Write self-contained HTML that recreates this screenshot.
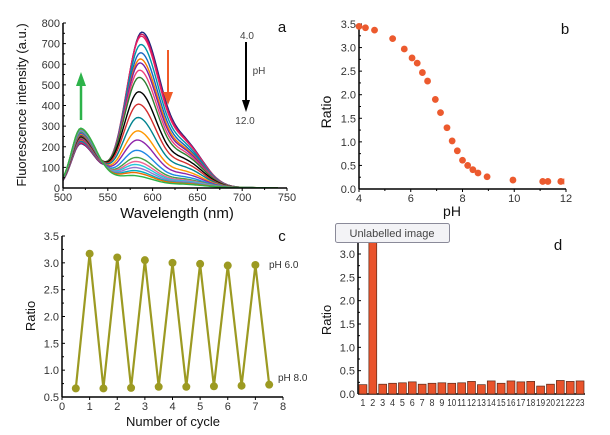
<!DOCTYPE html>
<html><head><meta charset="utf-8"><style>
body{margin:0;background:#fff}
svg{display:block;font-family:"Liberation Sans",Arial,sans-serif}
</style></head><body>
<svg id="fig" width="610" height="435" viewBox="0 0 610 435"></svg>
<script>
// Panel a data
const aPeak2 = [740,730,720,680,640,610,590,555,520,450,390,325,260,215,165,130,110,95,80,65,55,40];
const aPeak1 = [215,218,222,226,230,234,238,242,246,250,254,258,262,266,270,274,278,280,283,286,288,290];
const aXTicks = [500,550,600,650,700,750];
const aYTicks = [0,100,200,300,400,500,600,700,800];
// Panel b data
const bPH = [4.0,4.25,4.6,5.3,5.75,6.05,6.25,6.45,6.65,6.95,7.15,7.4,7.6,7.8,8.0,8.2,8.4,8.6,8.95,9.95,11.1,11.3,11.8];
const bRatio = [3.45,3.42,3.37,3.19,2.97,2.78,2.67,2.47,2.29,1.9,1.62,1.3,1.02,0.81,0.61,0.5,0.41,0.34,0.26,0.19,0.16,0.16,0.16];
const bXTicks = [4,6,8,10,12];
const bYTicks = [0,0.5,1,1.5,2,2.5,3,3.5];
// Panel c data
const cCycle = [0.5,1,1.5,2,2.5,3,3.5,4,4.5,5,5.5,6,6.5,7,7.5];
const cRatio = [0.66,3.17,0.66,3.1,0.67,3.05,0.69,3.0,0.69,2.98,0.70,2.95,0.71,2.96,0.73];
const cXTicks = [0,1,2,3,4,5,6,7,8];
const cYTicks = [0.5,1,1.5,2,2.5,3,3.5];
// Panel d data
const dLabels = ['1','2','3','4','5','6','7','8','9','10','11','12','13','14','15','16','17','18','19','20','21','22','23'];
const dRatio = [0.2,3.6,0.21,0.23,0.24,0.26,0.21,0.23,0.24,0.23,0.24,0.27,0.2,0.28,0.23,0.28,0.26,0.27,0.17,0.21,0.29,0.27,0.28];
const dYTicks = [0,0.5,1,1.5,2,2.5,3];

const svg=document.getElementById('fig');
const NS='http://www.w3.org/2000/svg';
function mk(tag,attrs,parent){const e=document.createElementNS(NS,tag);for(const k in attrs)e.setAttribute(k,attrs[k]);(parent||svg).appendChild(e);return e;}
function txt(s,x,y,size,anchor,parent,extra){const t=mk('text',Object.assign({x:x,y:y,'font-size':size,'text-anchor':anchor||'middle',fill:'#111'},extra||{}),parent);t.textContent=s;return t;}
function lin(d0,d1,r0,r1){return v=>r0+(v-d0)*(r1-r0)/(d1-d0);}

function axes(g,x0,x1,y0,y1,xTicks,xs,yTicks,ys,xfmt,yfmt,minorX,minorY){
  mk('line',{x1:x0,y1:y0,x2:x1,y2:y0,stroke:'#000','stroke-width':1.5},g);
  mk('line',{x1:x0,y1:y0,x2:x0,y2:y1,stroke:'#000','stroke-width':1.5},g);
  xTicks.forEach((v,i)=>{const x=xs(v);mk('line',{x1:x,y1:y0,x2:x,y2:y0+3,stroke:'#000'},g);
    if(xfmt)txt(xfmt(v),x,y0+13,11,'middle',g,{fill:'#333'});
    if(minorX&&i<xTicks.length-1){const m=xs((v+xTicks[i+1])/2);mk('line',{x1:m,y1:y0,x2:m,y2:y0+2,stroke:'#000'},g);}});
  yTicks.forEach((v,i)=>{const y=ys(v);mk('line',{x1:x0,y1:y,x2:x0+3,y2:y,stroke:'#000'},g);
    txt(yfmt(v),x0-3,y+4,11,'end',g,{fill:'#333'});
    if(minorY&&i<yTicks.length-1){const m=ys((v+yTicks[i+1])/2);mk('line',{x1:x0,y1:m,x2:x0+2,y2:m,stroke:'#000'},g);}});
}

// ---------- Panel a ----------
const ga=mk('g',{});
const ax=lin(500,750,63,287), ay=lin(0,800,188,23);
const colors=['#1a237e','#c2185b','#e91e63','#0097a7','#1565c0','#f57c00','#7b1fa2','#ec407a','#2e7d32','#000000','#d32f2f','#00838f','#ff9800','#8e24aa','#1e88e5','#43a047','#f06292','#26c6da','#9575cd','#00acc1','#ef6c00','#2db34a'];
function spec(w,p1,p2,idx){
  const g=(x,c,sl,sr)=>{const s=x<c?sl:sr;return Math.exp(-Math.pow((x-c)/s,2));};
  const c2=588-8*idx/aPeak2.length;
  let v=p1*0.8*g(w,520,15,24);
  v+=p1*0.2*(w>=520?Math.exp(-(w-520)/55):Math.exp(-Math.pow((w-520)/15,2)));
  v+=p2*(g(w,c2,24,30)+0.25*g(w,638,25,28));
  return v;
}
aPeak2.forEach((p2,i)=>{
  let d='';
  for(let w=500;w<=740;w+=2){const v=spec(w,aPeak1[i],p2,i);d+=(w===500?'M':'L')+ax(w).toFixed(1)+','+ay(v).toFixed(1);}
  const p=mk('path',{d:d,fill:'none',stroke:colors[i%colors.length],'stroke-width':1.4},ga);
  
  
});
axes(ga,63,287,188,23,aXTicks,ax,aYTicks,ay,v=>v,v=>v,true,true);
txt('Wavelength (nm)',177,218,15,'middle',ga,{});
txt('Fluorescence intensity (a.u.)',0,0,13,'middle',ga,{transform:'translate(26,105) rotate(-90)',});
txt('a',282,32,15,'middle',ga,{});
mk('line',{x1:81,y1:120,x2:81,y2:84,stroke:'#2db34a','stroke-width':2.5,},ga);
mk('polygon',{points:'76,86 86,86 81,72',fill:'#2db34a'},ga);
mk('line',{x1:168,y1:50,x2:168,y2:94,stroke:'#f05a28','stroke-width':2,},ga);
mk('polygon',{points:'163,92 173,92 168,105',fill:'#f05a28'},ga);
mk('line',{x1:246,y1:42,x2:246,y2:100,stroke:'#000','stroke-width':2,},ga);
mk('polygon',{points:'242,100 250,100 246,112',fill:'#000'},ga);
txt('4.0',247,39,10,'middle',ga,{fill:'#444'});
txt('pH',259,74,10,'middle',ga,{fill:'#444'});
txt('12.0',245,124,10,'middle',ga,{fill:'#444'});

// ---------- Panel b ----------
const gb=mk('g',{});
const bx=lin(4,12,359,566), by=lin(0,3.5,189,24);
axes(gb,359,566,189,24,bXTicks,bx,bYTicks,by,v=>v,v=>v.toFixed(1),true,true);
bPH.forEach((p,i)=>{const c=mk('circle',{cx:bx(p),cy:by(bRatio[i]),r:3.4,fill:'#ec5a2e'},gb);
  
  });
mk('line',{x1:bx(11.8)+3,y1:by(0.16)-3,x2:bx(11.8)+3,y2:by(0.16)+3,stroke:'#ec5a2e'},gb);
txt('pH',452,216,14,'middle',gb,{});
txt('Ratio',0,0,14,'middle',gb,{transform:'translate(331,112) rotate(-90)',});
txt('b',565,34,15,'middle',gb,{});

// ---------- Panel c ----------
const gc=mk('g',{});
const cx=lin(0,8,62,283), cy=lin(0.5,3.5,397,236);
axes(gc,62,283,397,236,cXTicks,cx,cYTicks,cy,v=>v,v=>v.toFixed(1),false,true);
mk('polyline',{points:cCycle.map((v,i)=>cx(v).toFixed(1)+','+cy(cRatio[i]).toFixed(1)).join(' '),fill:'none',stroke:'#9c9a22','stroke-width':2.2,},gc);
cCycle.forEach((v,i)=>{const c=mk('circle',{cx:cx(v),cy:cy(cRatio[i]),r:4,fill:'#9c9a22'},gc);
  
  });
txt('pH 6.0',269,268,10,'start',gc,{fill:'#333'});
txt('pH 8.0',278,381,10,'start',gc,{fill:'#333'});
txt('Number of cycle',173,426,13,'middle',gc,{});
txt('Ratio',0,0,13,'middle',gc,{transform:'translate(35,316) rotate(-90)',});
txt('c',282,241,15,'middle',gc,{});

// ---------- Panel d ----------
const gd=mk('g',{});
const dy=lin(0,3,394,254), dstep=(585-358)/dLabels.length;
mk('line',{x1:358,y1:394,x2:585,y2:394,stroke:'#000','stroke-width':1.5},gd);
mk('line',{x1:358,y1:394,x2:358,y2:231,stroke:'#000','stroke-width':1.5},gd);
dYTicks.forEach(v=>{const y=dy(v);mk('line',{x1:358,y1:y,x2:361,y2:y,stroke:'#000'},gd);txt(v.toFixed(1),355,y+4,11,'end',gd,{fill:'#333'});
  const m=dy(v+0.25);mk('line',{x1:358,y1:m,x2:360,y2:m,stroke:'#000'},gd);});
dLabels.forEach((l,i)=>{const x=358+dstep*i+1;const v=Math.min(dRatio[i],3.5);
  const b=mk('rect',{x:x,y:dy(v),width:dstep-2,height:394-dy(v),fill:'#e9532b',stroke:'#5a2a1a','stroke-width':0.7},gd);
  
  
  txt(l,x+(dstep-2)/2,406,10,'middle',gd,{fill:'#333','textLength':l.length>1?9:5,'lengthAdjust':'spacingAndGlyphs'});});
txt('Ratio',0,0,13,'middle',gd,{transform:'translate(331,320) rotate(-90)',});
txt('d',558,250,15,'middle',gd,{});
const tip=mk('g',{});
mk('rect',{x:335.5,y:223.5,width:114,height:19,rx:2,fill:'#f3f3f6',stroke:'#8a8a99'},tip);
txt('Unlabelled image',392,237,11,'middle',tip,{fill:'#444'});
</script>
</body></html>
